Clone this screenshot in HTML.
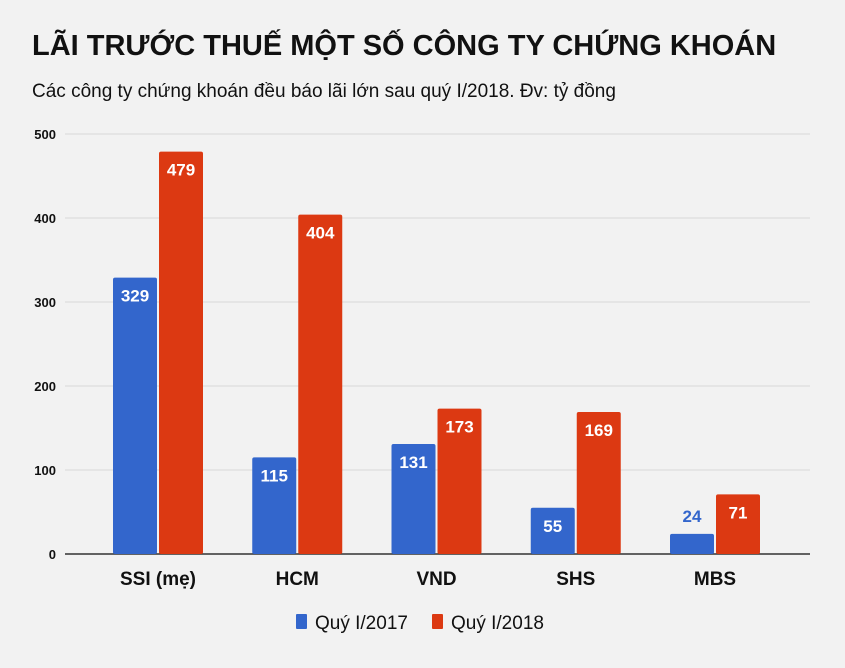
<!DOCTYPE html>
<html><head><meta charset="utf-8"><style>
body{margin:0;background:#f2f2f2;width:845px;height:668px;overflow:hidden;font-family:"Liberation Sans",sans-serif}
h1{position:absolute;left:32px;top:30px;margin:0;font-size:29px;font-weight:bold;color:#111;letter-spacing:0}
p{position:absolute;left:32px;top:81px;margin:0;font-size:19px;color:#111}
svg{position:absolute;left:0;top:0}
</style></head><body>
<h1>LÃI TRƯỚC THUẾ MỘT SỐ CÔNG TY CHỨNG KHOÁN</h1>
<p>Các công ty chứng khoán đều báo lãi lớn sau quý I/2018. Đv: tỷ đồng</p>
<svg id="chart" width="845" height="668"></svg>
<script>
const categories=["SSI (mẹ)","HCM","VND","SHS","MBS"];
const series2017=[329,115,131,55,24];
const series2018=[479,404,173,169,71];
const ticks=[0,100,200,300,400,500];
const NS="http://www.w3.org/2000/svg";
const svg=document.getElementById('chart');
const y=v=>554-v*0.84;
const xc=i=>158+i*139.25;
function mk(t,a,txt){const e=document.createElementNS(NS,t);for(const k in a)e.setAttribute(k,a[k]);if(txt!=null)e.textContent=txt;svg.appendChild(e);return e;}
ticks.forEach(t=>{
 const l=mk('line',{x1:65,x2:810,y1:y(t),y2:y(t),stroke:t===0?'#333':'#d8d8d8','stroke-width':t===0?1.5:1});
 
 
 const tx=mk('text',{x:56,y:y(t)+5,'text-anchor':'end','font-size':13,'font-weight':'bold',fill:'#111'},t);
 
 
});
categories.forEach((c,i)=>{
 [[series2017,'#3366cc',-45,'2017'],[series2018,'#dc3912',1,'2018']].forEach(([s,col,off,nm])=>{
  const v=s[i],top=y(v),h=554-top,x=xc(i)+off;
  const r=mk('rect',{x:x,y:top,width:44,height:h,fill:col,rx:2});
  
  
  const inside=h>40;
  const t=mk('text',{x:x+22,y:inside?top+24:top-12,'text-anchor':'middle','font-size':17,'font-weight':'bold',fill:inside?'#fff':col},v);
  
  
 });
 const cl=mk('text',{x:xc(i),y:585,'text-anchor':'middle','font-size':19,'font-weight':'bold',fill:'#111'},c);
 
 
});
[[296,'#3366cc','Quý I/2017'],[432,'#dc3912','Quý I/2018']].forEach(([x,col,l],k)=>{
 const r=mk('rect',{x:x,y:614,width:11,height:15,fill:col,rx:1});
 
 
 const t=mk('text',{x:x+19,y:629,'font-size':19,fill:'#111'},l);
 
 
});
</script>
</body></html>
